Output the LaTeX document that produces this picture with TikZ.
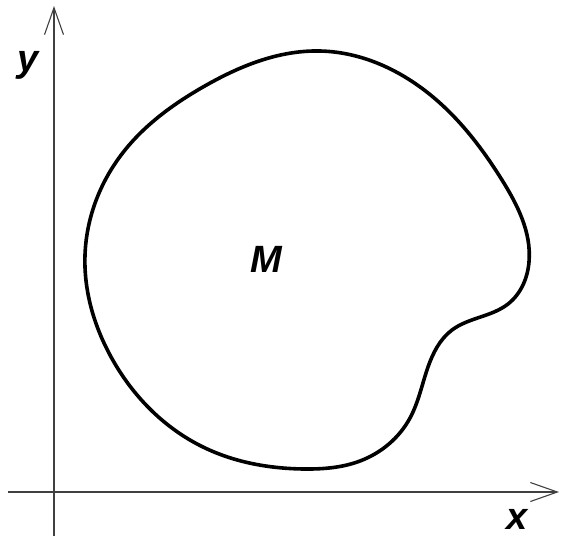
\documentclass[tikz,border=0pt]{standalone}
\usepackage{fontspec}
\setmainfont{Liberation Sans}
\usetikzlibrary{arrows.meta,hobby}
\tikzset{
  axis/.style={draw=black!75, line width=1.1pt, -{Straight Barb[length=27pt,width=19pt,line width=1.1pt]}},
  lbl/.style={inner sep=0pt, font=\fontsize{38}{38}\selectfont\bfseries\itshape},
  blob/.style={draw=black, line width=3.6pt}
}
\begin{document}
\begin{tikzpicture}[x=1pt,y=-1pt]
\useasboundingbox (0,0) rectangle (561,536);
\coordinate (yb) at (54,536);
\coordinate (yt) at (54,6);
\coordinate (xl) at (8,492);
\coordinate (xr) at (559,492);
\draw[axis] (yb) -- (yt);
\draw[axis] (xl) -- (xr);
\node[lbl] (ylab) at (28.5,65) {y};
\node[lbl] (xlab) at (517,519) {x};
\node[lbl] (mlab) at (266,259) {M};
\draw[blob, use Hobby shortcut, closed=true]
  (320,51) .. (433,97) .. (502,180) .. (529,262) .. (508,304) .. (452,330)
  .. (428,367) .. (410,418) .. (360,461) .. (305,469) .. (203,447)
  .. (110,355) .. (85,255) .. (125,150) .. (203,87);
\end{tikzpicture}
\end{document}
